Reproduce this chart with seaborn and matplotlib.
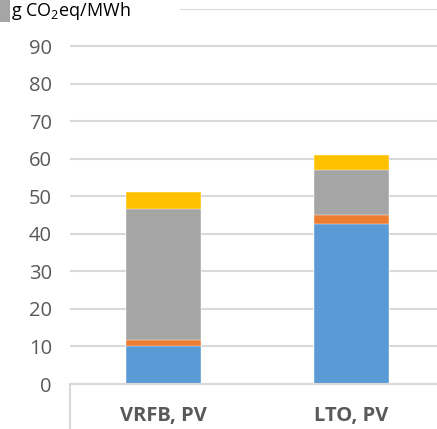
import matplotlib
matplotlib.use("Agg")
import matplotlib.pyplot as plt
import seaborn as sns
import numpy as np
from matplotlib.patches import Rectangle
from matplotlib.lines import Line2D

# Life-cycle emission contributions per storage case (g CO2eq/MWh)
categories = ["VRFB, PV", "LTO, PV"]
layer_blue = [10.2, 42.5]
layer_orange = [1.5, 2.4]
layer_gray = [34.9, 12.0]
layer_yellow = [4.4, 4.0]
y_ticks = [0, 10, 20, 30, 40, 50, 60, 70, 80, 90, 100]
y_tick_labels = ["0", "10", "20", "30", "40", "50", "60", "70", "80", "90", ""]

layers = [layer_blue, layer_orange, layer_gray, layer_yellow]
colors = ["#5B9BD5", "#ED7D31", "#A5A5A5", "#FFC000"]

sns.set_theme(style="white")
plt.rcParams["font.family"] = ["Open Sans", "DejaVu Sans"]
plt.rcParams["mathtext.fontset"] = "custom"
plt.rcParams["mathtext.rm"] = "Open Sans"

W, H = 437, 429
fig = plt.figure(figsize=(W / 100, H / 100), dpi=100)
ax = fig.add_axes([70 / W, (H - 384) / H, 375 / W, (384 - 8.5) / H])

# stacked bars: draw cumulative totals from the top layer down
cum = np.cumsum(np.array(layers), axis=0)
for i in range(len(layers) - 1, -1, -1):
    sns.barplot(x=categories, y=cum[i], color=colors[i], saturation=1,
                width=0.4, ax=ax, edgecolor="white", linewidth=0.3, zorder=3)

ax.set_xlim(-0.5, 1.5)
ax.set_ylim(0, 100)
ax.set_yticks(y_ticks)
ax.set_yticklabels(y_tick_labels)
ax.grid(axis="y", color="#D9D9D9", linewidth=1.5, zorder=0)
ax.set_axisbelow(True)
for s in ["top", "right", "left"]:
    ax.spines[s].set_visible(False)
ax.spines["bottom"].set_color("#D9D9D9")
ax.spines["bottom"].set_linewidth(1.5)
ax.spines["bottom"].set_zorder(4)
ax.tick_params(axis="y", length=0, pad=13, labelsize=14.5, labelcolor="#595959")
ax.tick_params(axis="x", length=0, pad=16, labelsize=14.5, labelcolor="#595959")
for t in ax.get_xticklabels():
    t.set_fontweight("bold")
ax.set_xlabel("")
ax.set_ylabel("")

# divider below the category axis at its left end
fig.add_artist(Line2D([70 / W, 70 / W], [0, (H - 384) / H], color="#D9D9D9",
                      linewidth=1.5, transform=fig.transFigure))

# unit label box at the top-left
fig.add_artist(Rectangle((10 / W, 1 - 24 / H), 170 / W, 24 / H, transform=fig.transFigure,
                         facecolor="white", edgecolor="none", zorder=5))
fig.add_artist(Rectangle((0, 1 - 22 / H), 10 / W, 22 / H, transform=fig.transFigure,
                         facecolor="#A5A5A5", edgecolor="none", zorder=6))
fig.text(11 / W, 1 - 11 / H, r"g CO$_\mathregular{2}$eq/MWh", fontsize=13, color="black",
         va="center", ha="left", zorder=7)

fig.savefig("out.png", dpi=100)
